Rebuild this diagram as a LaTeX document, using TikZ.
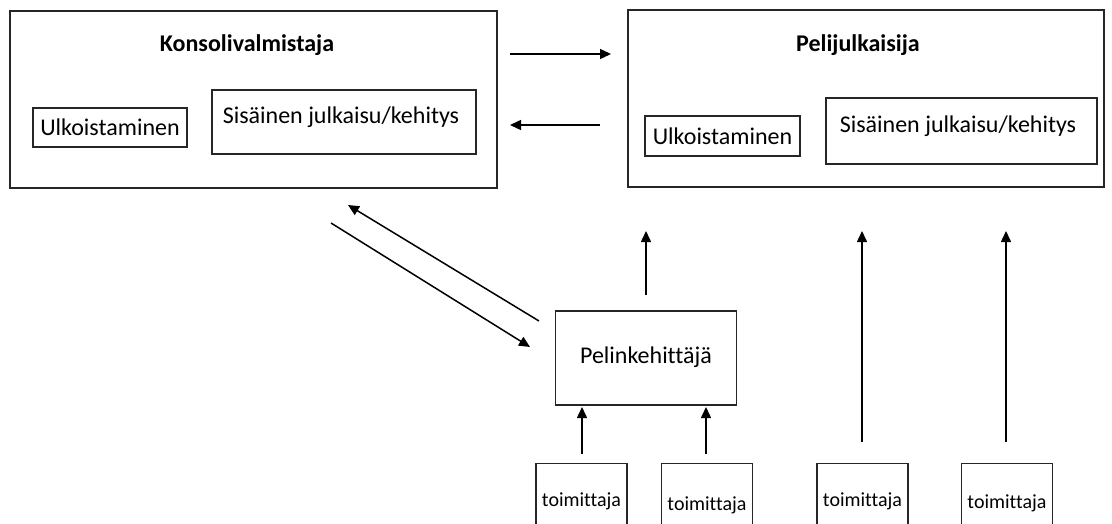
\documentclass[tikz,border=0pt]{standalone}
\usepackage{fontspec}
\setmainfont{Carlito}[Ligatures=NoCommon]
\usetikzlibrary{arrows.meta}
\begin{document}
\begin{tikzpicture}[x=1pt,y=-1pt,
  box/.style={draw=black!85,line width=1.4pt,inner sep=0pt,rectangle},
  lbl/.style={font=\fontsize{24}{28}\selectfont,inner sep=0pt},
  ttl/.style={font=\fontsize{24}{28}\selectfont\bfseries,inner sep=0pt},
  smlbl/.style={font=\fontsize{20}{24}\selectfont,inner sep=0pt},
  arr/.style={line width=1.5pt,-{Triangle[length=11pt,width=10pt]}}]
\useasboundingbox (0,0) rectangle (1112,524);
\clip (0,0) rectangle (1112,524);
\fill[white] (0,0) rectangle (1112,524);
% Konsolivalmistaja
\node[box,minimum width=487pt,minimum height=177pt] (kons) at (253.5,99.5) {};
\node[ttl] (konst) at (247,45) {Konsolivalmistaja};
\node[box,minimum width=154pt,minimum height=39pt] (ku) at (110,127.5) {};
\node[lbl] at (ku.center) {Ulkoistaminen};
\node[box,minimum width=264pt,minimum height=64pt] (ks) at (344,122) {};
\node[lbl] at (341,117) {Sisäinen julkaisu/kehitys};
% Pelijulkaisija
\node[box,minimum width=476pt,minimum height=177pt] (peli) at (866,98.5) {};
\node[ttl] (pelit) at (858,45) {Pelijulkaisija};
\node[box,minimum width=155pt,minimum height=40pt] (pu) at (722.5,136) {};
\node[lbl] at (pu.center) {Ulkoistaminen};
\node[box,minimum width=271pt,minimum height=66pt] (ps) at (961.5,131) {};
\node[lbl] at (958,126) {Sisäinen julkaisu/kehitys};
% Pelinkehittaja
\node[box,minimum width=181pt,minimum height=94pt] (dev) at (646,358) {};
\node[lbl] at (646,357) {Pelinkehittäjä};
% toimittajat
\foreach \n/\x/\ty in {t1/581.5/501,t2/707/505,t3/862.5/501,t4/1007/503}{
  \node[box,anchor=north,minimum width=91pt,minimum height=100pt] (\n) at (\x,463) {};
  \node[smlbl] at (\x,\ty) {toimittaja};
}
% coordinates for arrow ends
\coordinate (a1s) at (510,54);   \coordinate (a1e) at (611,54);
\coordinate (a2s) at (600,125);  \coordinate (a2e) at (510,125);
\coordinate (d1s) at (331,223);  \coordinate (d1e) at (530,347);
\coordinate (d2s) at (539,321);  \coordinate (d2e) at (348,205);
\coordinate (u1s) at (646,295);  \coordinate (u1e) at (646,231);
\coordinate (s1s) at (582,454);  \coordinate (s1e) at (582,407);
\coordinate (s2s) at (706,454);  \coordinate (s2e) at (706,407);
\coordinate (l1s) at (862,442);  \coordinate (l1e) at (862,231);
\coordinate (l2s) at (1006,442); \coordinate (l2e) at (1006,231);
\draw[arr] (a1s) -- (a1e);
\draw[arr] (a2s) -- (a2e);
\draw[arr] (d1s) -- (d1e);
\draw[arr] (d2s) -- (d2e);
\draw[arr] (u1s) -- (u1e);
\draw[arr] (s1s) -- (s1e);
\draw[arr] (s2s) -- (s2e);
\draw[arr] (l1s) -- (l1e);
\draw[arr] (l2s) -- (l2e);
\end{tikzpicture}
\end{document}
